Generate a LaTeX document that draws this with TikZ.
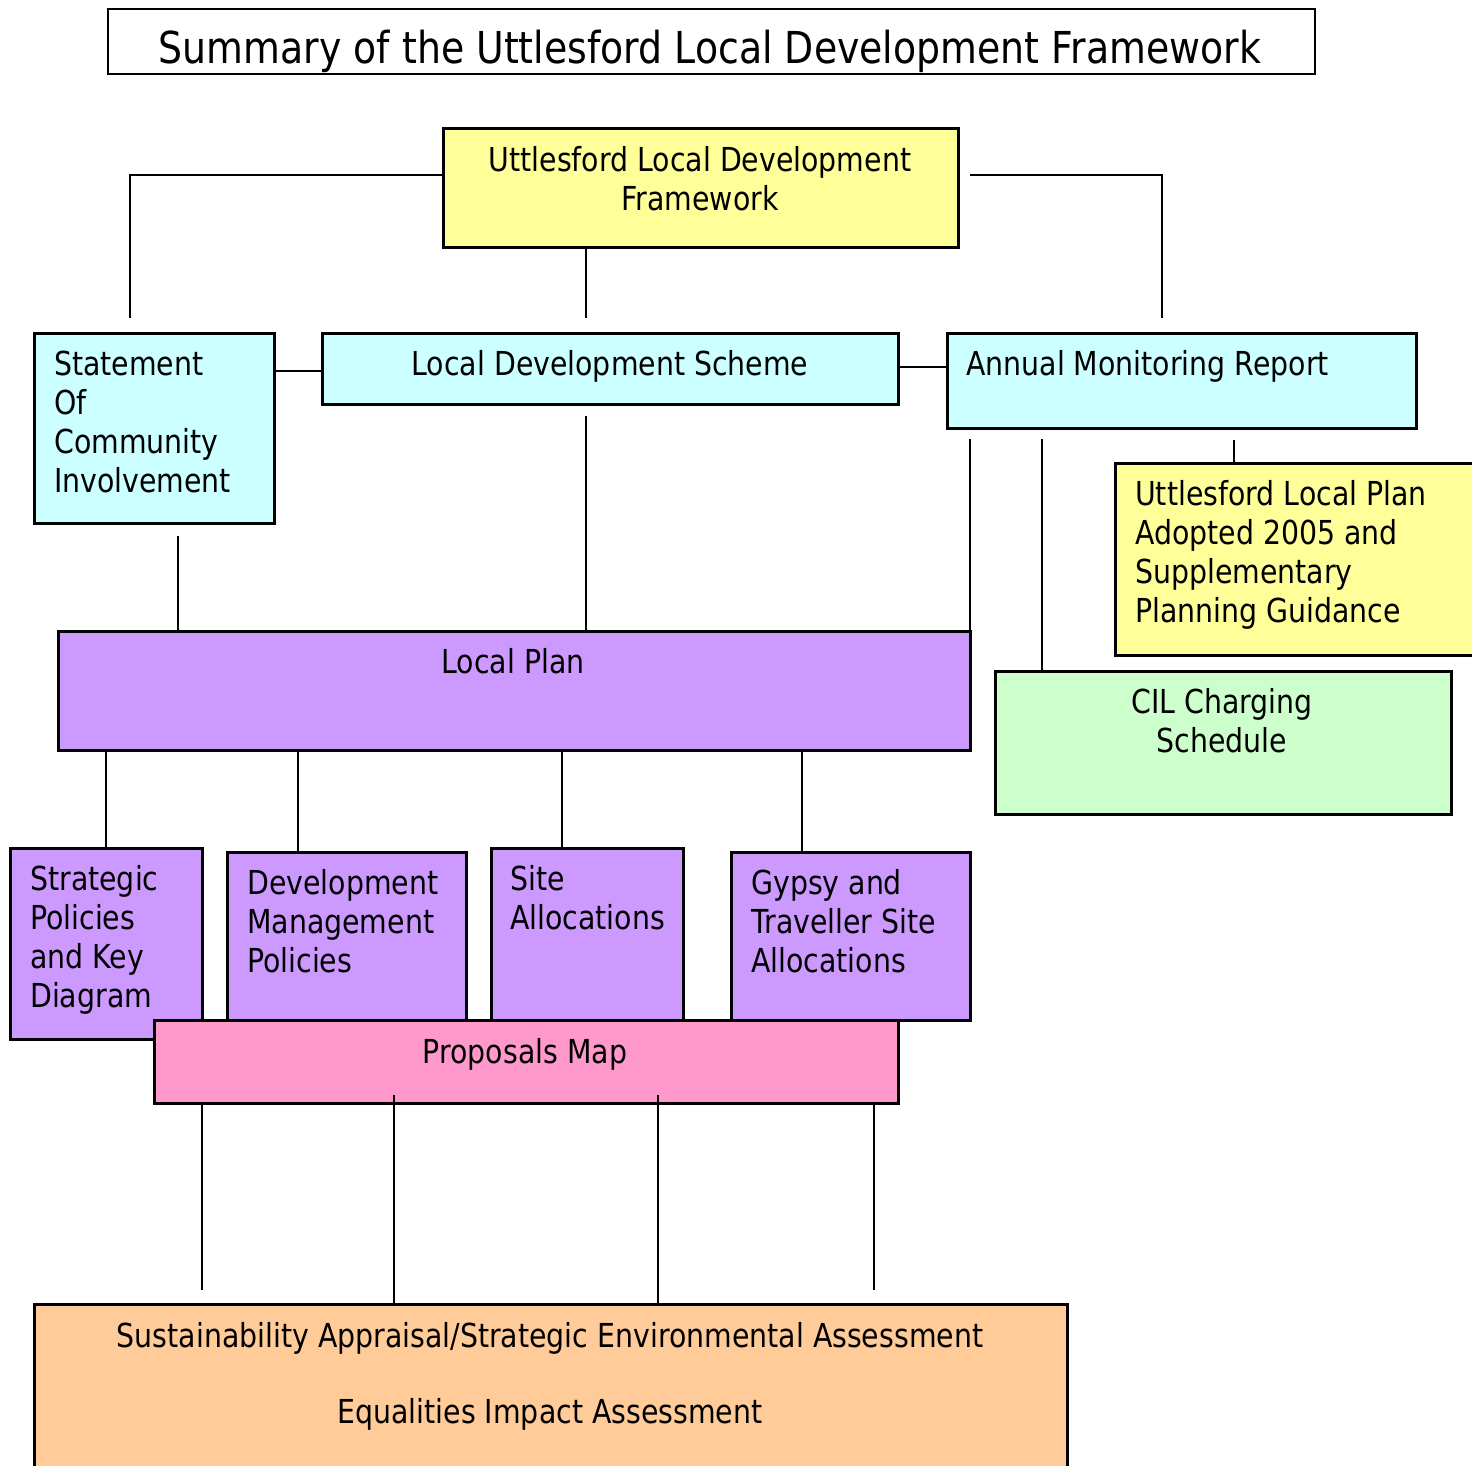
\documentclass[tikz,border=0pt]{standalone}
\usepackage{fontspec}
\setmainfont{DejaVu Sans}[FakeStretch=0.86]
\usetikzlibrary{positioning}
\definecolor{ldfyellow}{HTML}{FFFF99}
\definecolor{ldfcyan}{HTML}{CCFFFF}
\definecolor{ldfpurple}{HTML}{CC99FF}
\definecolor{ldfgreen}{HTML}{CCFFCC}
\definecolor{ldfpink}{HTML}{FF99CC}
\definecolor{ldforange}{HTML}{FFCC99}

\begin{document}
\begin{tikzpicture}[x=1pt,y=-1pt,font=\fontsize{33}{39}\selectfont]
  \tikzset{box/.style={draw,line width=2.7pt,anchor=north west,inner sep=0pt},
    txt/.style={inner sep=0pt,align=left,anchor=base west},
    ctxt/.style={inner sep=0pt,align=center,anchor=base},
    link/.style={line width=1.8pt},
    thinlink/.style={line width=1.3pt}}
  \useasboundingbox (0,0) rectangle (1472,1465);
  % title
  \node[box,line width=2.4pt,minimum width=1207,minimum height=65] (title) at (107,8) {};
  \node[ctxt,font=\fontsize{44}{50}\selectfont] (title-t) at (710,63)
    {Summary of the Uttlesford Local Development Framework};
  % top level (text nodes sit on the baseline of their last line)
  \node[box,fill=ldfyellow,minimum width=515,minimum height=119] (uldf) at (442,127) {};
  \node[ctxt] (uldf-t) at (700,210) {Uttlesford Local Development\\Framework};
  \node[box,fill=ldfcyan,minimum width=240,minimum height=190] (soci) at (33,332) {};
  \node[txt] (soci-t) at (54,492) {Statement\\Of\\Community\\Involvement};
  \node[box,fill=ldfcyan,minimum width=576,minimum height=71] (lds) at (321,332) {};
  \node[ctxt] (lds-t) at (610,375) {Local Development Scheme};
  \node[box,fill=ldfcyan,minimum width=469,minimum height=95] (amr) at (946,332) {};
  \node[txt] (amr-t) at (966,375) {Annual Monitoring Report};
  \node[box,fill=ldfyellow,minimum width=380,minimum height=192] (ulp) at (1114,462) {};
  \node[txt] (ulp-t) at (1135,622)
    {Uttlesford Local Plan\\Adopted 2005 and\\Supplementary\\Planning Guidance};
  \node[box,fill=ldfgreen,minimum width=456,minimum height=143] (cil) at (994,670) {};
  \node[ctxt] (cil-t) at (1222,752) {CIL Charging\\Schedule};
  % local plan
  \node[box,fill=ldfpurple,minimum width=912,minimum height=119] (lp) at (57,630) {};
  \node[ctxt] (lp-t) at (513,673) {Local Plan};
  \node[box,fill=ldfpurple,minimum width=192,minimum height=191] (spkd) at (9,847) {};
  \node[txt] (spkd-t) at (30,1007) {Strategic\\Policies\\and Key\\Diagram};
  \node[box,fill=ldfpurple,minimum width=239,minimum height=168] (dmp) at (226,851) {};
  \node[txt] (dmp-t) at (247,972) {Development\\Management\\Policies};
  \node[box,fill=ldfpurple,minimum width=192,minimum height=172] (sa) at (490,847) {};
  \node[txt] (sa-t) at (510,929) {Site\\Allocations};
  \node[box,fill=ldfpurple,minimum width=239,minimum height=168] (gtsa) at (730,851) {};
  \node[txt] (gtsa-t) at (751,972) {Gypsy and\\Traveller Site\\Allocations};
  \node[box,fill=ldfpink,minimum width=744,minimum height=83] (pm) at (153,1019) {};
  \node[ctxt] (pm-t) at (525,1063) {Proposals Map};
  \node[box,fill=ldforange,minimum width=1033,minimum height=200] (sea) at (33,1303) {};
  \node[ctxt] (sea-t) at (550,1423)
    {Sustainability Appraisal/Strategic Environmental Assessment\\[37pt]
     Equalities Impact Assessment};
  % connectors
  \coordinate (soci-up) at (130,318);
  \coordinate (amr-up) at (1162,318);
  \coordinate (uldf-r) at (970,175);
  \coordinate (lds-up) at (586,318);
  \coordinate (lds-down) at (586,416);
  \coordinate (soci-down) at (178,536);
  \coordinate (amr-d1) at (970,439);
  \coordinate (amr-d2) at (1042,439);
  \coordinate (amr-d3) at (1234,440);
  \draw[link] (uldf.west |- 0,175) -| (soci-up);
  \draw[link] (uldf-r) -| (amr-up);
  \draw[link] (uldf.south -| lds-up) -- (lds-up);
  \draw[link] (soci.east |- 0,371) -- (lds.west |- 0,371);
  \draw[link] (lds.east |- 0,367) -- (amr.west |- 0,367);
  \draw[link] (lds-down) -- (lds-down |- lp.north);
  \draw[link] (soci-down) -- (soci-down |- lp.north);
  \draw[link] (amr-d1) -- (amr-d1 |- lp.north);
  \draw[link] (amr-d2) -- (amr-d2 |- cil.north);
  \draw[link] (amr-d3) -- (amr-d3 |- ulp.north);
  \foreach \x/\n in {106/spkd,298/dmp,562/sa,802/gtsa}
    \draw[link] (lp.south -| \x,0) -- (\n.north -| \x,0);
  \foreach \x/\a/\b in {202/3/13,394/10/-2,658/10/-2,874/3/13}
    \draw[thinlink] ([yshift=\a pt]pm.south -| \x,0) -- ([yshift=\b pt]sea.north -| \x,0);
\end{tikzpicture}
\end{document}
